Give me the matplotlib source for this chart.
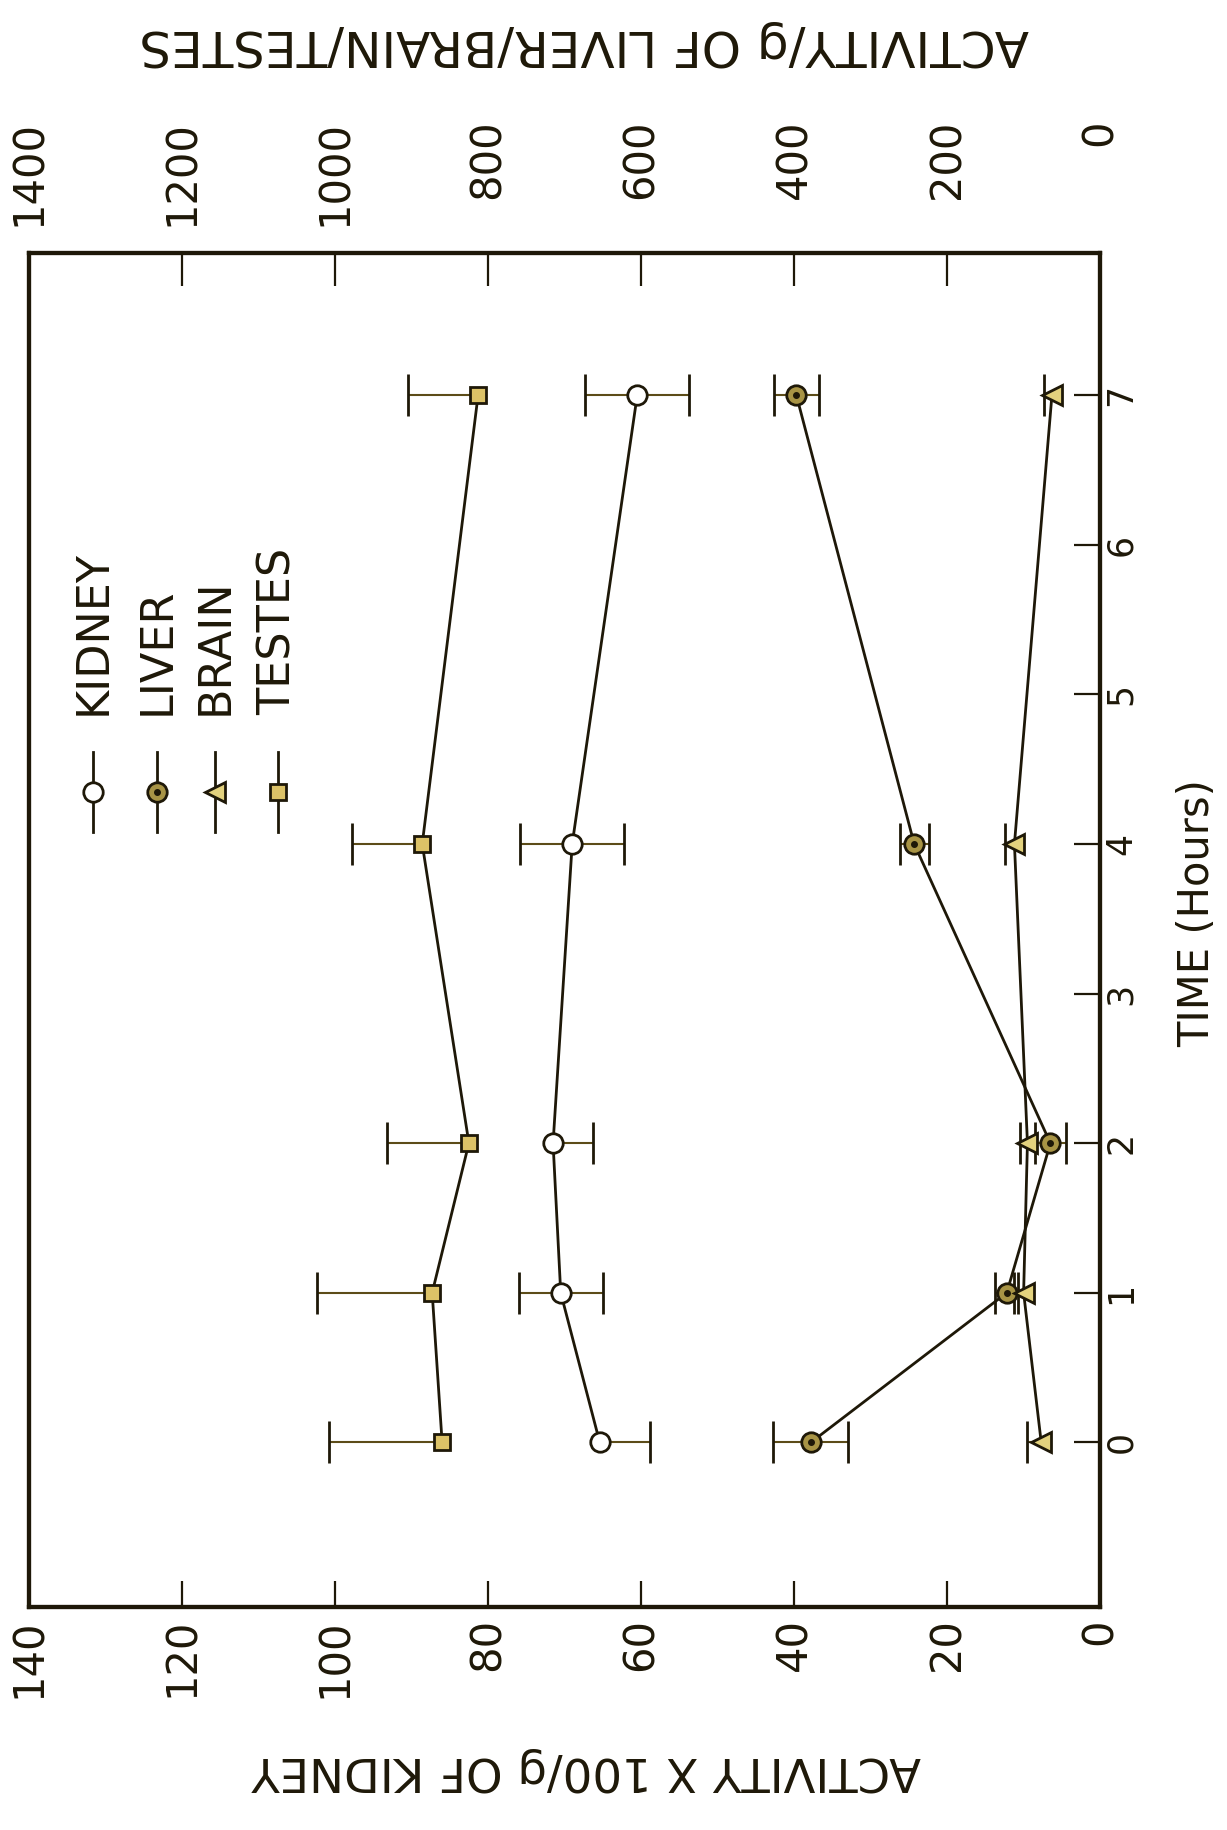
import numpy as np
import matplotlib
matplotlib.use("Agg")
import matplotlib.pyplot as plt

# sampling times (hours)
time = np.array([0, 1, 2, 4, 7])

# kidney: activity x 100 / g
kidney = np.array([65.4, 70.5, 71.5, 69.0, 60.5])
kidney_err_lo = np.array([6.6, 5.5, 5.2, 6.8, 6.8])
kidney_err_hi = np.array([0.0, 5.5, 0.0, 6.8, 6.8])

# liver / brain / testes: activity / g
liver = np.array([378, 122, 65, 243, 397])
liver_err_lo = np.array([49, 15, 20, 19, 29])
liver_err_hi = np.array([49, 15, 20, 19, 29])

brain = np.array([77, 100, 95, 112, 63])
brain_err_lo = np.array([0, 0, 0, 0, 0])
brain_err_hi = np.array([18, 12, 10, 12, 10])

testes = np.array([860, 873, 825, 886, 813])
testes_err_lo = np.array([0, 0, 0, 0, 0])
testes_err_hi = np.array([148, 151, 107, 92, 92])

kidney_ticks = [0, 20, 40, 60, 80, 100, 120, 140]
organ_ticks = [0, 200, 400, 600, 800, 1000, 1200, 1400]
hour_ticks = [0, 1, 2, 3, 4, 5, 6, 7]

ink = "#1e1808"
bar_ink = "#5c4c18"

fig = plt.figure(figsize=(12.27, 18.30), dpi=100)
fig.patch.set_facecolor("white")

# axes drawn turned on their side: activity runs right-to-left, time bottom-to-top
ax = fig.add_axes([0.0236, 0.1219, 0.873, 0.7398])
ax.set_xlim(140, 0)
ax.set_ylim(-1.1, 7.95)
ax2 = ax.twiny()
ax2.set_xlim(1400, 0)


def draw_series(axis, vals, err_lo, err_hi, marker, face, ms):
    vals = np.asarray(vals, dtype=float)
    lo = vals - err_lo
    hi = vals + err_hi
    axis.hlines(time, lo, hi, color=bar_ink, lw=1.5, zorder=2)
    cap_x = np.concatenate([lo[err_lo > 0], hi[err_hi > 0]])
    cap_y = np.concatenate([time[err_lo > 0], time[err_hi > 0]])
    axis.plot(cap_x, cap_y, ls="none", marker="|", ms=30, mew=2, color=ink, zorder=2)
    axis.plot(vals, time, color=ink, lw=2, marker=marker, ms=ms,
              mfc=face, mec=ink, mew=2, zorder=3)


draw_series(ax, kidney, kidney_err_lo, kidney_err_hi, "o", "white", 14)
draw_series(ax2, liver, liver_err_lo, liver_err_hi, "o", "#a89445", 14)
ax2.plot(liver, time, ls="none", marker="o", ms=4, color=ink, zorder=4)
draw_series(ax2, brain, brain_err_lo, brain_err_hi, "<", "#e3d27e", 14)
draw_series(ax2, testes, testes_err_lo, testes_err_hi, "s", "#dcc267", 12)

# bottom axis: kidney scale
ax.set_xticks(kidney_ticks)
ax.set_xticklabels([str(v) for v in kidney_ticks])
ax.tick_params(axis="x", direction="in", length=19, width=1.6, labelsize=30,
               pad=8, labelrotation=90, colors=ink)

# right axis: time
ax.yaxis.tick_right()
ax.set_yticks(hour_ticks)
ax.set_yticklabels([str(v) for v in hour_ticks])
ax.tick_params(axis="y", direction="in", length=19, width=1.6, labelsize=25,
               pad=3, labelrotation=90, colors=ink)
for lab in ax.get_yticklabels():
    lab.set_va("center")

# top axis: liver / brain / testes scale, labels hang from a common line
ax2.set_xticks(organ_ticks)
ax2.set_xticklabels([str(v) for v in organ_ticks])
ax2.tick_params(axis="x", direction="in", length=24, width=1.6, labelsize=30,
                pad=96, labelrotation=90, colors=ink)
for lab in ax2.get_xticklabels():
    lab.set_va("top")

for a in (ax, ax2):
    for sp in a.spines.values():
        sp.set_linewidth(3)
        sp.set_color(ink)

fig.text(0.4776, 0.033, "ACTIVITY X 100/g OF KIDNEY", rotation=180,
         ha="center", va="center", fontsize=33.5, color=ink)
fig.text(0.476, 0.976, "ACTIVITY/g OF LIVER/BRAIN/TESTES", rotation=180,
         ha="center", va="center", fontsize=36, color=ink)
fig.text(0.9756, 0.501, "TIME (Hours)", rotation=90,
         ha="center", va="center", fontsize=30, color=ink)

# legend, laid out by hand in axes fractions
legend_names = ["KIDNEY", "LIVER", "BRAIN", "TESTES"]
legend_marks = ["o", "o", "<", "s"]
legend_faces = ["white", "#a89445", "#e3d27e", "#dcc267"]
legend_x = [0.0598, 0.1195, 0.1737, 0.2325]
for name, mk, fc, lx in zip(legend_names, legend_marks, legend_faces, legend_x):
    ax.plot([lx, lx], [0.5724, 0.6315], transform=ax.transAxes, color=ink,
            lw=2, clip_on=False, zorder=5)
    ax.plot([lx], [0.602], transform=ax.transAxes, marker=mk, ms=14 if mk != "s" else 12,
            mfc=fc, mec=ink, mew=2, ls="none", zorder=6)
    if name == "LIVER":
        ax.plot([lx], [0.602], transform=ax.transAxes, marker="o", ms=4,
                color=ink, ls="none", zorder=7)
    ax.text(lx, 0.659, name, transform=ax.transAxes, rotation=90,
            ha="center", va="bottom", fontsize=32, color=ink)

fig.savefig("out.png", dpi=100, facecolor="white")
